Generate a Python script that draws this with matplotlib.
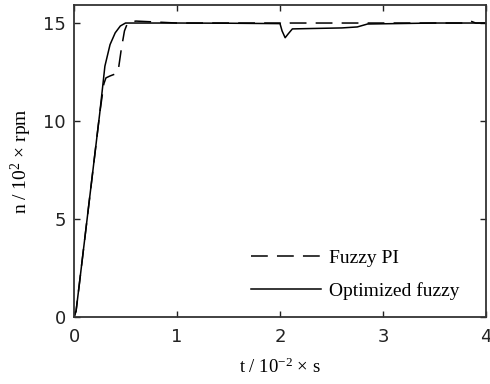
import matplotlib
matplotlib.use("Agg")
import matplotlib.pyplot as plt

# ---- data ----
t_pi = [0, 0.02, 0.05, 0.10, 0.15, 0.20, 0.25, 0.29, 0.31, 0.35, 0.40, 0.43,
        0.46, 0.49, 0.52, 0.60, 1.0, 1.5, 2.0, 2.03, 2.10, 3.0, 3.8, 3.85, 3.9, 4.0]
n_pi = [0, 0.3, 1.6, 3.8, 6.0, 8.2, 10.4, 11.9, 12.2, 12.3, 12.4, 12.6,
        13.7, 14.6, 15.0, 15.1, 15.0, 15.0, 15.0, 14.93, 15.0, 15.0, 15.0, 15.1, 15.0, 15.0]

t_opt = [0, 0.02, 0.05, 0.10, 0.15, 0.20, 0.25, 0.30, 0.35, 0.40, 0.45, 0.50,
         0.55, 1.0, 1.5, 2.0, 2.02, 2.05, 2.08, 2.12, 2.3, 2.6, 2.75, 2.85, 3.5, 4.0]
n_opt = [0, 0.3, 1.6, 3.8, 6.0, 8.2, 10.4, 12.8, 13.9, 14.5, 14.85, 15.0,
         15.0, 15.0, 14.99, 14.97, 14.6, 14.25, 14.45, 14.7, 14.72, 14.75, 14.8, 14.95, 15.0, 15.0]

labels = ["Fuzzy PI", "Optimized fuzzy"]
xticks = [0, 1, 2, 3, 4]
yticks = [0, 5, 10, 15]

plt.rcParams['mathtext.fontset'] = 'custom'
plt.rcParams['mathtext.rm'] = 'Liberation Serif'
plt.rcParams['mathtext.it'] = 'Liberation Serif:italic'

fig = plt.figure(figsize=(4.9, 3.84), dpi=100)
ax = fig.add_axes([74/490, 67/384, 412/490, 312/384])

ax.plot(t_pi, n_pi, color='black', lw=1.1, dashes=(11, 6), label=labels[0])
ax.plot(t_opt, n_opt, color='black', lw=1.1, label=labels[1])

ax.set_xlim(0, 4)
ax.set_ylim(0, 15.92)
ax.set_xticks(xticks)
ax.set_yticks(yticks)
ax.tick_params(direction='in', length=4, width=1, top=True, right=True,
               labelsize=13, colors='#222222')
ax.tick_params(axis='x', pad=8)
ax.tick_params(axis='y', pad=6)
for s in ax.spines.values():
    s.set_linewidth(1.3)
    s.set_color('#333333')

ax.set_xlabel('t / 10$^{-2}$ × s', family='Liberation Serif', fontsize=13.5, labelpad=8)
ax.set_ylabel('n / 10$^{2}$ × rpm', family='Liberation Serif', fontsize=14, labelpad=6)

leg = ax.legend(loc='upper left', bbox_to_anchor=(0.43, 0.218), frameon=False,
                borderpad=0, borderaxespad=0, handlelength=3.6, handletextpad=0.4,
                labelspacing=0.8, prop={'family': 'Liberation Serif', 'size': 14})

fig.savefig('out.png', dpi=100)
